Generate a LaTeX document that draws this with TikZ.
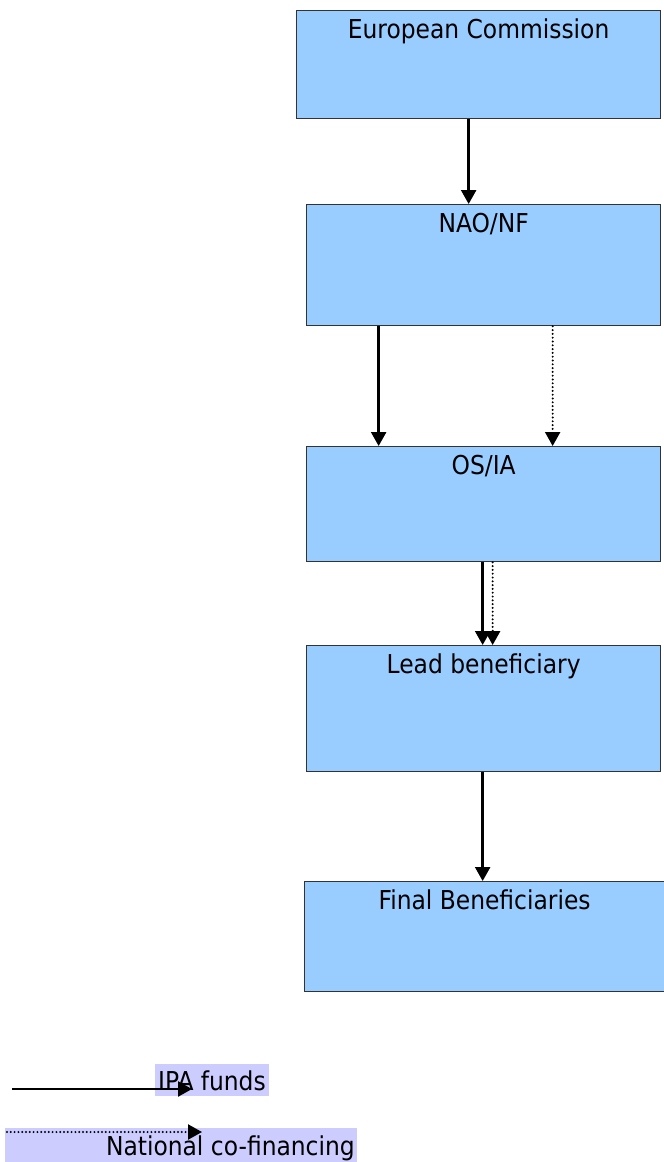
\documentclass[tikz,border=0pt]{standalone}
\usepackage{fontspec}
\setmainfont{DejaVu Sans Condensed}
\usetikzlibrary{arrows.meta}
\definecolor{boxblue}{HTML}{99CCFF}
\definecolor{legbg}{HTML}{CCCCFF}
\definecolor{edge}{HTML}{333333}
\begin{document}
\begin{tikzpicture}[x=1pt,y=-1pt,
  box/.style={draw=edge,line width=1.3pt,fill=boxblue,rectangle,inner sep=0pt,anchor=north west},
  lbl/.style={font=\fontsize{26}{29}\selectfont,inner sep=0pt,anchor=base},
  ipa/.style={line width=2.4pt,-{Triangle[width=15pt,length=14pt]}},
  nat/.style={line width=2.2pt,line cap=round,dash pattern=on 0pt off 3.8pt,-{Triangle[width=15pt,length=14pt,line cap=butt]}},
  legbox/.style={fill=legbg,inner sep=0pt,rectangle}]
\useasboundingbox (0,0) rectangle (664,1162);
% boxes
\node[box,minimum width=364pt,minimum height=108pt] (ec) at (296,10) {};
\node[box,minimum width=354pt,minimum height=121pt] (nao) at (306,204) {};
\node[box,minimum width=354pt,minimum height=115pt] (os) at (306,446) {};
\node[box,minimum width=354pt,minimum height=126pt] (lead) at (306,645) {};
\node[box,minimum width=360pt,minimum height=110pt] (fin) at (304,881) {};
% labels
\node[lbl] (ect) at ([yshift=-28pt]ec.north) {European Commission};
\node[lbl] (naot) at ([yshift=-28pt]nao.north) {NAO/NF};
\node[lbl] (ost) at ([yshift=-28pt]os.north) {OS/IA};
\node[lbl] (leadt) at ([yshift=-28pt]lead.north) {Lead beneficiary};
\node[lbl] (fint) at ([yshift=-28pt]fin.north) {Final Beneficiaries};
% connectors
\draw[ipa] ([xshift=-10pt]ec.south) -- ([xshift=-10pt]ec.south |- nao.north);
\draw[ipa] ([xshift=-105pt]nao.south) -- ([xshift=-105pt]nao.south |- os.north);
\draw[nat] ([xshift=69pt]nao.south) -- ([xshift=69pt]nao.south |- os.north);
\draw[ipa] ([xshift=-1pt]os.south) -- ([xshift=-1pt]os.south |- lead.north);
\draw[nat] ([xshift=9pt]os.south) -- ([xshift=9pt]os.south |- lead.north);
\draw[ipa] ([xshift=-1pt]lead.south) -- ([xshift=-1pt]lead.south |- fin.north);
% legend
\node[legbox,minimum width=114pt,minimum height=32pt] (ipabg) at (212,1080) {};
\node[lbl] (ipat) at ([yshift=-10pt]ipabg.center) {IPA funds};
\coordinate (ipa0) at (12,1089);
\coordinate (ipa1) at (192,1089);
\draw[ipa] (ipa0) -- (ipa1);
\node[legbox,minimum width=352pt,minimum height=34pt,anchor=north west] (natbg) at (5,1128) {};
\node[lbl,anchor=base east] (natt) at (355,1155) {National co-financing};
\coordinate (nat0) at (7,1132);
\coordinate (nat1) at (202,1132);
\draw[nat] (nat0) -- (nat1);
\end{tikzpicture}
\end{document}
